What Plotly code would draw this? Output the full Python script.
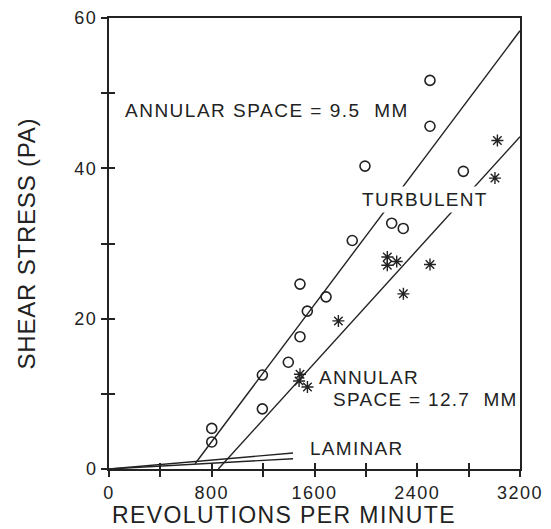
import plotly.graph_objects as go

# 9.5 mm annular space (open circles)
circ_rpm = [800, 800, 1194, 1194, 1396, 1487, 1544, 1487, 1690, 1894, 1993, 2499, 2499, 2759, 2201, 2291]
circ_tau = [5.4, 3.6, 12.5, 8.0, 14.2, 17.6, 21.0, 24.6, 22.9, 30.4, 40.3, 51.7, 45.6, 39.6, 32.7, 32.0]

# 12.7 mm annular space (asterisks)
star_rpm = [1487, 1480, 1545, 1786, 2167, 2167, 2240, 2292, 2499, 3024, 3005]
star_tau = [12.6, 11.7, 10.9, 19.7, 28.2, 27.1, 27.6, 23.3, 27.2, 43.7, 38.7]

# turbulent fit lines
turb_a_rpm = [670, 3200]
turb_a_tau = [0.7, 58.3]
turb_b_rpm = [851, 3200]
turb_b_tau = [0.0, 44.2]

# laminar lines
lam_a_rpm = [0, 1433]
lam_a_tau = [0.0, 2.13]
lam_b_rpm = [0, 1433]
lam_b_tau = [0.0, 1.37]

x_ticks = [0, 400, 800, 1200, 1600, 2000, 2400, 2800, 3200]
x_labels = ["0", "", "800", "", "1600", "", "2400", "", "3200"]
y_ticks = [0, 10, 20, 30, 40, 50, 60]
y_labels = ["0", "", "20", "", "40", "", "60"]

INK = "#222222"
FONT = "Liberation Sans, Arial, Helvetica, sans-serif"


def spaced(s, px):
    return '<span style="letter-spacing:%spx">%s</span>' % (px, s) if s else ""


fig = go.Figure()
line_style = dict(color=INK, width=1.4)
for xs, ys in [(lam_a_rpm, lam_a_tau), (lam_b_rpm, lam_b_tau),
               (turb_a_rpm, turb_a_tau), (turb_b_rpm, turb_b_tau)]:
    fig.add_trace(go.Scatter(x=xs, y=ys, mode="lines", line=line_style,
                             showlegend=False, hoverinfo="skip"))

fig.add_trace(go.Scatter(x=circ_rpm, y=circ_tau, mode="markers",
                         marker=dict(symbol="circle-open", size=10, color=INK,
                                     line=dict(color=INK, width=1.6)),
                         showlegend=False))
fig.add_trace(go.Scatter(x=star_rpm, y=star_tau, mode="markers",
                         marker=dict(symbol="asterisk-open", size=10, color=INK,
                                     line=dict(color=INK, width=1.4)),
                         showlegend=False))

ann_font = dict(family=FONT, size=19, color=INK)
fig.add_annotation(x=109, y=47.76, text=spaced("ANNULAR SPACE = 9.5&nbsp; MM", 1.5),
                   showarrow=False, xanchor="left", yanchor="middle", font=ann_font)
fig.add_annotation(x=2460, y=35.9, text=spaced("TURBULENT", 1.3), showarrow=False,
                   xanchor="center", yanchor="middle", font=ann_font,
                   bgcolor="white", borderpad=2)
fig.add_annotation(x=1627, y=11.9, text=spaced("ANNULAR", 1.3), showarrow=False,
                   xanchor="left", yanchor="middle", font=ann_font,
                   borderpad=0, yshift=2)
fig.add_annotation(x=1736, y=9.35, text=spaced("SPACE = 12.7&nbsp; MM", 1.3), showarrow=False,
                   xanchor="left", yanchor="middle", font=ann_font,
                   borderpad=0, yshift=-1)
fig.add_annotation(x=1549, y=2.7, text=spaced("LAMINAR", 1.3), showarrow=False,
                   xanchor="left", yanchor="middle", font=ann_font)

# axis titles (placed as paper annotations; the x title sits left of centre)
fig.add_annotation(xref="paper", yref="paper", x=0.4246, y=0, yshift=-46,
                   text=spaced("REVOLUTIONS PER MINUTE", 1.4), showarrow=False,
                   xanchor="center", yanchor="middle",
                   font=dict(family=FONT, size=23, color=INK))
fig.add_annotation(xref="paper", yref="paper", x=0, xshift=-83, y=0.50,
                   text=spaced("SHEAR STRESS (PA)", 0.8), showarrow=False, textangle=-90,
                   xanchor="center", yanchor="middle",
                   font=dict(family=FONT, size=24, color=INK))

axis_common = dict(showgrid=False, zeroline=False, showline=True, automargin=False,
                   linecolor=INK, linewidth=2, mirror=True,
                   ticks="outside", ticklen=6, tickwidth=1.5, tickcolor=INK,
                   tickfont=dict(family=FONT, size=18, color=INK))

# the page body adds an 8 px margin, so the figure is sized to fit inside it
fig.update_layout(
    width=543, height=521,
    margin=dict(l=101, r=31, t=10, b=60, autoexpand=False),
    paper_bgcolor="white", plot_bgcolor="white",
    xaxis=dict(range=[0, 3200], tickmode="array", tickvals=x_ticks,
               ticktext=[spaced(t, 1.5) for t in x_labels], **axis_common),
    yaxis=dict(range=[0, 60], tickmode="array", tickvals=y_ticks,
               ticktext=[spaced(t, 1.5) for t in y_labels], **axis_common),
    xaxis2=dict(range=[0, 3200], overlaying="x", anchor="y", side="bottom",
                tickmode="array", tickvals=x_ticks, showticklabels=False,
                ticks="inside", ticklen=6, tickwidth=1.5, tickcolor=INK,
                showgrid=False, zeroline=False, showline=False, automargin=False),
    yaxis2=dict(range=[0, 60], overlaying="y", anchor="x", side="left",
                tickmode="array", tickvals=y_ticks, showticklabels=False,
                ticks="inside", ticklen=6, tickwidth=1.5, tickcolor=INK,
                showgrid=False, zeroline=False, showline=False, automargin=False),
)
# dummy trace to activate the overlay axes
fig.add_trace(go.Scatter(x=[0], y=[0], xaxis="x2", yaxis="y2", mode="markers",
                         marker=dict(opacity=0), showlegend=False, hoverinfo="skip"))

fig.write_html("out.html")
